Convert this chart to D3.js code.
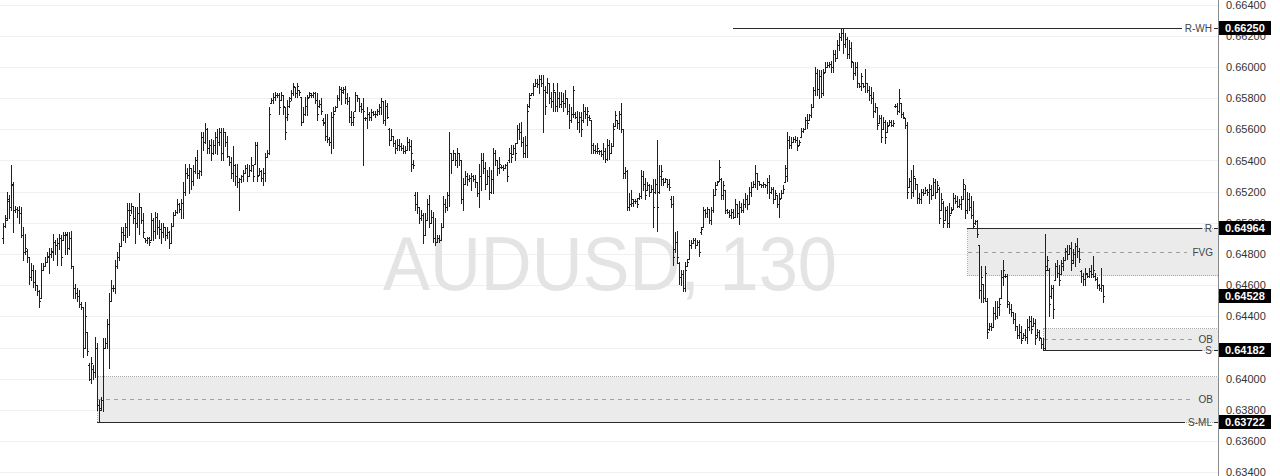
<!DOCTYPE html>
<html><head><meta charset="utf-8">
<script src="https://cdn.jsdelivr.net/npm/d3@7"></script>
<style>html,body{margin:0;padding:0;background:#fff;overflow:hidden}svg{display:block}</style>
</head><body>
<svg id="chart" width="1280" height="476"></svg>
<script>
const symbol = "AUDUSD, 130";
const PIP = 0.0001;
// OHLC bars, [open, high, low, close] in pips (price / 0.0001), oldest first
const bars = [
[6490,6500,6487,6498],[6498,6505,6497,6502],[6503,6520,6502,6515],[6514,6518,6503,6510],[6510,6537,6508,6525],[6524,6526,6494,6508],[6508,6511,6507,6509],[6509,6510,6504,6508],[6508,6511,6500,6506],[6506,6510,6491,6492],
[6492,6497,6476,6481],[6481,6493,6480,6484],[6482,6483,6475,6478],[6478,6478,6461,6465],[6465,6474,6463,6470],[6470,6473,6459,6462],[6462,6470,6457,6460],[6460,6460,6454,6456],[6456,6457,6446,6450],[6452,6474,6452,6470],
[6470,6474,6470,6472],[6472,6478,6472,6475],[6475,6481,6475,6479],[6478,6484,6468,6480],[6480,6484,6478,6482],[6481,6493,6476,6488],[6488,6489,6480,6486],[6486,6490,6473,6487],[6487,6493,6483,6490],[6490,6492,6473,6478],
[6489,6494,6489,6492],[6492,6494,6480,6493],[6492,6494,6480,6484],[6484,6494,6483,6490],[6490,6495,6471,6472],[6472,6472,6452,6458],[6458,6461,6452,6455],[6455,6458,6450,6453],[6453,6457,6446,6448],[6448,6449,6445,6446],
[6446,6446,6414,6420],[6420,6449,6420,6440],[6430,6430,6415,6418],[6409,6410,6399,6400],[6400,6414,6397,6410],[6406,6409,6400,6404],[6404,6427,6401,6420],[6420,6423,6380,6383],[6383,6386,6372.2,6380],[6381,6388,6380,6386],
[6386,6426,6379,6420],[6420,6426,6420,6423],[6423,6438,6420,6435],[6435,6455,6407,6450],[6450,6463,6450,6458],[6458,6460,6456,6458],[6458,6476,6455,6472],[6472,6481,6471,6478],[6478,6487,6476,6485],[6485,6497,6485,6494],
[6494,6497,6489,6492],[6492,6500,6488,6497],[6497,6513,6491,6508],[6508,6513,6492,6505],[6508,6513,6506,6511],[6511,6511,6500,6503],[6503,6510,6487,6500],[6500,6510,6497,6506],[6506,6519,6493,6510],[6510,6510,6500,6502],
[6502,6506,6491,6494],[6490,6490,6488,6489],[6489,6491,6487,6490],[6490,6491,6486,6488],[6489,6506,6489,6502],[6502,6503,6489,6495],[6495,6507,6490,6504],[6504,6506,6493,6497],[6497,6502,6490,6496],[6496,6500,6487,6494],
[6494,6500,6491,6497],[6497,6497,6489,6492],[6492,6497,6490,6494],[6494,6495,6484,6487],[6487,6500,6487,6498],[6498,6507,6498,6505],[6505,6508,6505,6507],[6507,6515,6506,6512],[6512,6513,6507,6509],[6509,6515,6503,6513],
[6513,6526,6503,6520],[6520,6538,6518,6532],[6532,6535,6529,6531],[6531,6538,6519,6535],[6535,6535,6522,6527],[6527,6537,6524,6533],[6533,6542,6532,6540],[6540,6547,6529,6532],[6532,6534,6529,6533],[6533,6558,6531,6555],
[6555,6558,6547,6552],[6552,6564,6551,6560],[6560,6561,6545,6548],[6548,6553,6545,6550],[6550,6554,6540,6545],[6545,6553,6544,6550],[6550,6558,6545,6555],[6555,6560,6544,6552],[6552,6561,6550,6558],[6558,6561,6540,6545],
[6545,6561,6540,6558],[6558,6558,6549,6552],[6552,6556,6542,6543],[6543,6543,6537,6539],[6539,6542,6529,6532],[6532,6549,6527,6537],[6537,6538,6524,6530],[6530,6538,6523,6526],[6526,6529,6508,6528],[6528,6531,6526,6530],
[6530,6534,6527,6532],[6532,6537,6532,6535],[6535,6538,6527,6530],[6530,6537,6530,6534],[6534,6542,6533,6537],[6537,6537,6527,6530],[6538,6552,6538,6550],[6550,6552,6527,6530],[6531,6535,6531,6533],[6533,6534,6527,6529],
[6529,6535,6524,6532],[6532,6545,6527,6542],[6542,6547,6542,6545],[6545,6574,6544,6570],[6577,6580,6577,6579],[6579,6583,6577,6581],[6581,6584,6579,6582],[6582,6583,6581,6582],[6582,6583,6570,6574],[6579,6584,6579,6582],
[6582,6582,6570,6575],[6574,6574,6554,6558],[6568,6579,6566,6570],[6575,6581,6574,6578],[6580,6585,6579,6583],[6583,6590,6582,6588],[6587,6587,6581,6583],[6583,6590,6581,6588],[6585,6585,6582,6584],[6581,6581,6563,6565],
[6565,6574,6565,6570],[6570,6581,6569,6575],[6575,6582,6569,6580],[6581,6584,6581,6583],[6582,6583,6581,6582],[6582,6584,6581,6583],[6583,6584,6577,6579],[6579,6583,6566,6570],[6575,6579,6574,6576],[6576,6580,6570,6572],
[6566,6567,6563,6564],[6565,6570,6553,6556],[6556,6570,6552,6554],[6554,6555,6550,6552],[6552,6571,6545,6568],[6568,6574,6548,6570],[6572,6575,6572,6574],[6574,6582,6574,6580],[6580,6588,6579,6586],[6586,6587,6576,6584],
[6585,6587,6583,6586],[6586,6588,6577,6580],[6580,6583,6576,6578],[6578,6581,6565,6568],[6568,6572,6563,6565],[6565,6571,6563,6568],[6572,6584,6572,6582],[6582,6582,6578,6580],[6580,6580,6572,6575],[6575,6577,6571,6573],
[6573,6580,6537,6572],[6567,6568,6566,6567],[6567,6574,6561,6570],[6570,6571,6566,6568],[6568,6573,6566,6571],[6571,6572,6569,6570],[6570,6572,6568,6570],[6570,6573,6569,6572],[6572,6576,6570,6574],[6574,6580,6570,6578],
[6578,6578,6564,6566],[6566,6579,6563,6575],[6575,6577,6567,6568],[6560,6561,6550,6553],[6553,6560,6553,6556],[6556,6556,6549,6551],[6551,6553,6545,6548],[6548,6554,6547,6550],[6550,6554,6547,6549],[6549,6551,6547,6548],
[6548,6550,6545,6546],[6546,6549,6545,6547],[6547,6555,6547,6552],[6552,6554,6547,6549],[6549,6553,6533,6545],[6538,6540,6535,6537],[6518,6520,6508,6512],[6512,6520,6506,6510],[6510,6510,6500,6503],[6503,6508,6502,6505],
[6505,6506,6487,6492],[6492,6506,6492,6502],[6502,6515,6502,6512],[6512,6518,6497,6500],[6500,6508,6500,6504],[6504,6507,6488,6490],[6490,6503,6486,6488],[6488,6492,6488,6490],[6490,6492,6488,6489],[6489,6500,6489,6497],
[6497,6517,6497,6512],[6512,6515,6507,6510],[6510,6520,6508,6518],[6518,6558,6511,6545],[6545,6545,6532,6540],[6540,6547,6540,6545],[6545,6545,6537,6540],[6540,6548,6536,6545],[6545,6545,6537,6540],[6540,6540,6513,6515],
[6515,6529,6508,6525],[6525,6533,6525,6530],[6530,6532,6524,6528],[6528,6531,6527,6529],[6529,6532,6521,6530],[6530,6531,6527,6528],[6528,6531,6523,6526],[6526,6526,6517,6519],[6519,6538,6510,6530],[6530,6545,6521,6540],
[6540,6545,6532,6535],[6535,6539,6522,6525],[6525,6534,6525,6530],[6530,6536,6515,6520],[6520,6534,6519,6528],[6528,6548,6519,6545],[6545,6547,6537,6540],[6540,6540,6531,6535],[6535,6542,6532,6538],[6536,6537,6535,6536],
[6536,6537,6534,6535],[6535,6538,6535,6537],[6537,6539,6527,6530],[6540,6548,6539,6545],[6545,6550,6539,6542],[6544,6550,6544,6548],[6548,6551,6540,6545],[6551,6563,6551,6560],[6560,6564,6554,6558],[6558,6565,6549,6552],
[6552,6555,6542,6545],[6545,6556,6542,6550],[6550,6576,6542,6572],[6575,6583,6574,6580],[6582,6583,6582,6583],[6583,6590,6582,6588],[6588,6592,6588,6590],[6590,6592,6587,6589],[6589,6595,6583,6592],[6592,6595,6588,6590],
[6590,6595,6558,6585],[6585,6588,6570,6575],[6584,6593,6583,6590],[6590,6590,6577,6580],[6580,6584,6574,6578],[6578,6590,6572,6585],[6584,6584,6572,6575],[6575,6590,6572,6580],[6580,6584,6574,6576],[6576,6584,6574,6578],
[6578,6583,6572,6577],[6577,6585,6574,6580],[6580,6580,6570,6572],[6572,6576,6561,6566],[6566,6574,6565,6570],[6570,6588,6568,6585],[6570,6571,6567,6568],[6568,6572,6560,6565],[6565,6571,6558,6568],[6568,6571,6556,6560],
[6566,6576,6565,6572],[6572,6574,6567,6570],[6570,6574,6563,6572],[6568,6569,6566,6567],[6566,6566,6545,6550],[6550,6551,6545,6547],[6547,6550,6545,6546],[6546,6551,6545,6548],[6546,6547,6544,6546],[6546,6547,6543,6544],
[6544,6551,6541,6546],[6546,6548,6539,6541],[6541,6554,6540,6550],[6550,6553,6541,6545],[6545,6551,6545,6549],[6549,6564,6549,6560],[6562,6572,6562,6569],[6566,6566,6561,6564],[6564,6572,6560,6570],[6570,6577,6558,6560],
[6560,6560,6529,6532],[6532,6536,6529,6533],[6533,6534,6508,6510],[6510,6519,6508,6512],[6512,6521,6511,6515],[6513,6515,6511,6514],[6514,6515,6513,6514],[6514,6516,6510,6512],[6516,6519,6515,6517],[6517,6534,6516,6530],
[6530,6533,6521,6525],[6525,6529,6515,6518],[6521,6526,6521,6524],[6524,6525,6517,6520],[6520,6524,6520,6522],[6522,6528,6497,6510],[6520,6528,6519,6525],[6525,6553,6495,6510],[6520,6537,6519,6530],[6530,6537,6524,6533],
[6528,6529,6524,6526],[6526,6529,6526,6528],[6528,6528,6523,6525],[6525,6528,6521,6523],[6515,6517,6510,6512],[6512,6517,6473,6478],[6483,6494,6481,6488],[6488,6495,6474,6478],[6474,6475,6461,6465],[6465,6470,6460,6467],
[6467,6470,6456,6458],[6458,6475,6456,6470],[6472,6477,6472,6475],[6477,6489,6477,6486],[6486,6489,6484,6487],[6487,6490,6487,6489],[6489,6490,6484,6486],[6486,6489,6486,6488],[6488,6489,6479,6481],[6494,6497,6493,6496],
[6497,6510,6497,6508],[6508,6509,6504,6506],[6506,6510,6504,6509],[6509,6509,6500,6502],[6502,6510,6499,6508],[6508,6522,6507,6518],[6518,6526,6518,6522],[6524,6527,6524,6526],[6527,6540,6527,6536],[6528,6529,6515,6518],
[6518,6527,6515,6524],[6521,6521,6506,6508],[6508,6509,6506,6507],[6507,6508,6504,6505],[6505,6509,6503,6507],[6507,6509,6503,6504],[6504,6515,6504,6512],[6512,6512,6504,6506],[6506,6514,6499,6510],[6510,6513,6507,6508],
[6508,6515,6507,6512],[6512,6519,6510,6515],[6515,6518,6509,6512],[6512,6523,6512,6520],[6520,6526,6517,6523],[6523,6527,6523,6525],[6525,6537,6523,6532],[6532,6532,6522,6527],[6527,6527,6524,6525],[6525,6525,6523,6524],
[6524,6526,6523,6525],[6525,6525,6523,6524],[6524,6529,6519,6526],[6526,6531,6516,6520],[6520,6523,6519,6522],[6522,6523,6513,6515],[6515,6521,6515,6519],[6518,6518,6510,6512],[6512,6519,6504,6515],[6516,6521,6516,6519],
[6519,6524,6519,6522],[6526,6537,6526,6535],[6530,6558,6527,6553],[6553,6556,6548,6550],[6550,6555,6548,6552],[6552,6555,6552,6554],[6554,6556,6552,6553],[6553,6555,6547,6549],[6550,6553,6550,6552],[6555,6561,6555,6559],
[6559,6561,6558,6560],[6560,6568,6560,6566],[6566,6570,6561,6564],[6566,6570,6566,6569],[6569,6576,6568,6574],[6574,6587,6574,6585],[6585,6600,6582,6596],[6596,6599,6582,6586],[6586,6598,6580,6594],[6594,6598,6581,6583],
[6583,6599,6582,6596],[6597,6603,6597,6600],[6600,6603,6600,6601],[6601,6603,6600,6602],[6602,6604,6597,6600],[6600,6611,6597,6608],[6608,6611,6604,6606],[6606,6617,6606,6614],[6614,6622,6611,6619],[6619,6625,6617,6622],
[6622,6625,6609,6615],[6615,6622,6613,6618],[6618,6619,6606,6608],[6608,6617,6606,6612],[6612,6616,6600,6604],[6603,6603,6592,6596],[6596,6603,6595,6600],[6600,6603,6587,6590],[6590,6590,6587,6588],[6588,6596,6585,6594],
[6590,6590,6587,6588],[6588,6599,6584,6590],[6590,6590,6584,6585],[6585,6588,6579,6582],[6582,6587,6577,6580],[6580,6584,6568,6572],[6572,6577,6571,6574],[6574,6574,6560,6563],[6564,6569,6564,6567],[6567,6569,6552,6555],
[6560,6568,6560,6565],[6565,6566,6551,6555],[6558,6565,6558,6562],[6563,6566,6563,6565],[6565,6566,6562,6563],[6563,6566,6562,6564],[6575,6576,6574,6575],[6575,6577,6570,6572],[6572,6586,6571,6580],[6577,6577,6568,6570],
[6570,6571,6567,6568],[6567,6567,6561,6563],[6563,6565,6516,6520],[6523,6529,6523,6527],[6527,6534,6516,6520],[6520,6537,6517,6530],[6529,6529,6522,6525],[6525,6525,6513,6516],[6516,6519,6513,6515],[6515,6522,6513,6520],
[6520,6522,6518,6519],[6519,6523,6519,6521],[6521,6522,6518,6520],[6520,6525,6513,6522],[6522,6524,6515,6518],[6518,6529,6518,6526],[6526,6528,6516,6520],[6520,6527,6520,6524],[6522,6523,6500,6503],[6508,6519,6508,6515],
[6513,6514,6497,6500],[6502,6510,6502,6508],[6508,6511,6497,6500],[6500,6513,6497,6505],[6506,6510,6506,6508],[6509,6519,6509,6516],[6516,6518,6513,6514],[6514,6517,6510,6511],[6511,6515,6510,6512],[6512,6517,6509,6515],
[6515,6528,6515,6525],[6522,6524,6503,6508],[6508,6520,6506,6515],[6515,6519,6508,6510],[6510,6517,6503,6505],[6505,6514,6497,6498],[6500,6502,6499,6501],[6501,6502,6491,6493],[6486,6486,6452,6457],[6457,6472,6449,6465],
[6461,6461,6449,6452],[6452,6472,6450,6468],[6450,6452,6426,6430],[6432,6436,6431,6434],[6434,6436,6431,6433],[6433,6446,6433,6442],[6442,6450,6438,6440],[6440,6450,6439,6446],[6446,6452,6441,6448],[6452,6470,6452,6465],
[6465,6476,6460,6470],[6466,6467,6465,6466],[6466,6467,6446,6450],[6448,6449,6442,6445],[6445,6448,6440,6443],[6443,6443,6436,6438],[6438,6442,6431,6434],[6434,6434,6426,6428],[6428,6435,6426,6430],[6430,6434,6423,6425],
[6426,6429,6426,6428],[6428,6432,6425,6427],[6427,6438,6423,6433],[6433,6440,6431,6437],[6437,6440,6429,6432],[6434,6439,6434,6436],[6436,6438,6422,6426],[6428,6432,6427,6430],[6430,6431,6425,6427],[6426,6426,6420,6422],
[6422,6426,6418.2,6420],[6420,6493,6418.2,6470],[6472,6479,6470,6476],[6470,6471,6440,6448],[6453,6460,6452,6458],[6458,6460,6439,6445],[6463,6474,6463,6472],[6472,6476,6465,6468],[6468,6473,6460,6463],[6467,6476,6467,6474],
[6472,6478,6470,6476],[6476,6484,6476,6482],[6482,6486,6477,6480],[6480,6486,6480,6484],[6484,6488,6470,6474],[6476,6483,6474,6480],[6480,6487,6472,6485],[6485,6490,6478,6482],[6482,6484,6475,6477],[6469,6470,6462,6466],
[6466,6468,6460,6464],[6464,6471,6460,6468],[6467,6468,6465,6466],[6466,6471,6465,6469],[6469,6473,6465,6467],[6467,6479,6465,6470],[6466,6468,6463,6464],[6464,6465,6458,6460],[6460,6461,6457,6458],[6458,6471,6456,6460],
[6460,6460,6449,6452.8]
];
// right price scale tick labels
const yTicks = [0.634,0.636,0.638,0.640,0.642,0.644,0.646,0.648,0.650,0.652,0.654,0.656,0.658,0.660,0.662,0.664];
// horizontal levels: label, price, first bar index
const levelNames  = ["R-WH", "R", "S", "S-ML"];
const levelPrices = [0.66250, 0.64964, 0.64182, 0.63722];
const levelStarts = [365, 482, 520, 47];
// zones (boxes): label, top, bottom, first bar index
const zoneNames   = ["FVG", "OB", "OB"];
const zoneTops    = [0.64964, 0.64325, 0.64017];
const zoneBottoms = [0.64665, 0.64182, 0.63722];
const zoneStarts  = [482, 520, 47];
// highlighted prices on the scale
const priceTags = [0.66250, 0.64964, 0.64528, 0.64182, 0.63722];

const W = 1280, H = 476, PR = 1218;
const svg = d3.select("#chart");
const x = d3.scaleLinear().domain([0, bars.length - 1]).range([3, 1103]);
const y = d3.scaleLinear().domain([0.63722, 0.66250]).range([422, 28]);
const FONT = "'Liberation Sans', Arial, sans-serif";

svg.append("rect").attr("width", W).attr("height", H).attr("fill", "#fff");

// grid
svg.append("g").selectAll("line").data(yTicks).join("line")
  .attr("x1", 0).attr("x2", PR)
  .attr("y1", d => Math.round(y(d)) + 0.5).attr("y2", d => Math.round(y(d)) + 0.5)
  .attr("stroke", "#f0f0f0").attr("shape-rendering", "crispEdges");

// watermark
svg.append("text").text(symbol)
  .attr("x", 383).attr("y", 290)
  .attr("font-family", FONT).attr("font-size", 76)
  .attr("textLength", 454).attr("lengthAdjust", "spacingAndGlyphs")
  .attr("fill", "#e4e4e4");

// zones
const zones = zoneNames.map((n, i) => ({name: n, top: zoneTops[i], bottom: zoneBottoms[i], start: zoneStarts[i]}));
const zg = svg.append("g");
zones.forEach(z => {
  const x0 = Math.round(x(z.start)) + 0.5;
  const yt = Math.round(y(z.top)) + 0.5, yb = Math.round(y(z.bottom)) + 0.5;
  zg.append("rect").attr("x", x0).attr("y", yt).attr("width", PR - x0).attr("height", yb - yt)
    .attr("fill", "#ebebeb").attr("stroke", "#a8a8a8").attr("stroke-dasharray", "1,1")
    .attr("shape-rendering", "crispEdges");
  const ym = Math.round(y((z.top + z.bottom) / 2)) + 0.5;
  const t = zg.append("text").text(z.name).attr("x", 1213).attr("y", ym)
    .attr("text-anchor", "end").attr("dominant-baseline", "central")
    .attr("font-family", FONT).attr("font-size", 10).attr("fill", "#444");
  const tw = t.node().getComputedTextLength();
  zg.append("line").attr("x1", x0).attr("x2", 1213 - tw - 5).attr("y1", ym).attr("y2", ym)
    .attr("stroke", "#a0a0a0").attr("stroke-dasharray", "4,4").attr("shape-rendering", "crispEdges");
});

// bars
const bg = svg.append("g").attr("stroke", "#202020").attr("fill", "none").attr("shape-rendering", "crispEdges");
bg.selectAll("path").data(bars).join("path")
  .attr("d", (d, i) => {
    const px = Math.round(x(i));
    const [o, h, l, c] = d.map(v => v * PIP);
    const yh = Math.round(y(h)), yl = Math.round(y(l));
    const yo = Math.round(y(o)) + 0.5, yc = Math.round(y(c)) + 0.5;
    return `M${px + 0.5},${yh}V${Math.max(yl + 1, yh + 1)}M${px - 1},${yo}H${px + 1}M${px},${yc}H${px + 2}`;
  });

// levels
const lg = svg.append("g");
levelNames.forEach((n, i) => {
  const yv = Math.round(y(levelPrices[i])) + 0.5;
  const x0 = Math.round(x(levelStarts[i]));
  const t = lg.append("text").text(n).attr("x", 1212).attr("y", yv)
    .attr("text-anchor", "end").attr("dominant-baseline", "central")
    .attr("font-family", FONT).attr("font-size", 10).attr("fill", "#444");
  const tw = t.node().getComputedTextLength();
  lg.append("line").attr("x1", x0).attr("x2", 1212 - tw - 3).attr("y1", yv).attr("y2", yv)
    .attr("stroke", "#2a2a2a").attr("shape-rendering", "crispEdges");
  lg.append("line").attr("x1", 1214).attr("x2", PR).attr("y1", yv).attr("y2", yv)
    .attr("stroke", "#2a2a2a").attr("shape-rendering", "crispEdges");
});

// price axis
svg.append("rect").attr("x", PR + 1).attr("y", 0).attr("width", W - PR - 1).attr("height", H).attr("fill", "#fff");
const axis = d3.axisRight(y).tickValues(yTicks).tickSize(0).tickPadding(8).tickFormat(d3.format(".5f"));
const ag = svg.append("g").attr("transform", `translate(${PR},0)`).call(axis);
ag.select(".domain").remove();
ag.selectAll("text").attr("font-family", FONT).attr("font-size", 11).attr("fill", "#333");
svg.append("line").attr("x1", PR + 0.5).attr("x2", PR + 0.5).attr("y1", 0).attr("y2", H)
  .attr("stroke", "#8a8a8a").attr("shape-rendering", "crispEdges");

// highlighted price tags
const tg = svg.append("g");
priceTags.forEach(p => {
  const yv = Math.round(y(p));
  tg.append("rect").attr("x", PR + 1).attr("y", yv - 7).attr("width", 52).attr("height", 14).attr("fill", "#000");
  tg.append("text").text(d3.format(".5f")(p)).attr("x", PR + 7).attr("y", yv)
    .attr("dominant-baseline", "central").attr("font-family", FONT).attr("font-size", 11)
    .attr("font-weight", "bold").attr("fill", "#fff");
});
</script>
</body></html>
